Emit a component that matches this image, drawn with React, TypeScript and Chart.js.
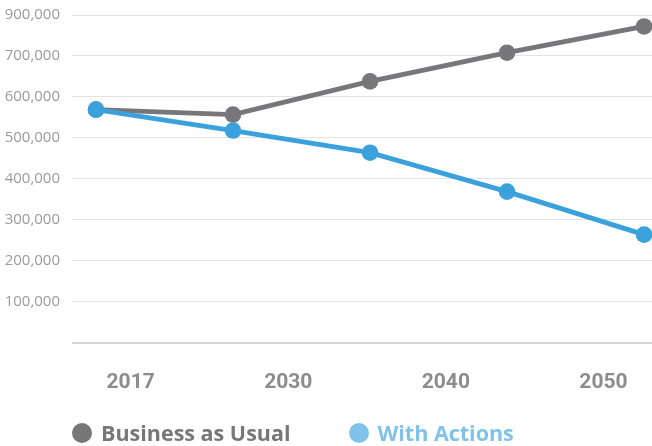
import { useEffect, useRef } from 'react';
import { Chart, registerables } from 'chart.js';

Chart.register(...registerables);

const pointIndex = [0, 1, 2, 3, 4];
const businessAsUsual = [569000, 557000, 638000, 708000, 772000];
const withActions = [569000, 518000, 464000, 369000, 264000];
const yearLabels = ['2017', '2030', '2040', '2050'];
const yTickLabels = ['', '100,000', '200,000', '300,000', '400,000', '500,000', '600,000', '700,000', '900,000'];
const seriesNames = ['Business as Usual', 'With Actions'];

const GRAY = '#77777b';
const BLUE = '#3ba1dc';
const GRAY_LEGEND = '#77777b';
const BLUE_LEGEND = '#80c2ea';

export default function App() {
  const canvasRef = useRef<HTMLCanvasElement | null>(null);

  useEffect(() => {
    if (!canvasRef.current) return;
    const chart = new Chart(canvasRef.current, {
      type: 'line',
      data: {
        datasets: [
          {
            label: seriesNames[0],
            data: pointIndex.map((x, i) => ({ x, y: businessAsUsual[i] })),
            borderColor: GRAY,
            backgroundColor: GRAY,
            borderWidth: 4.8,
            pointRadius: 8.3,
            pointBorderWidth: 0,
            clip: false as any,
            order: 1,
          },
          {
            label: seriesNames[1],
            data: pointIndex.map((x, i) => ({ x, y: withActions[i] })),
            borderColor: BLUE,
            backgroundColor: BLUE,
            borderWidth: 4.8,
            pointRadius: 8.3,
            pointBorderWidth: 0,
            clip: false as any,
            order: 0,
          },
        ],
      },
      options: {
        animation: false,
        responsive: true,
        maintainAspectRatio: false,
        layout: { autoPadding: false, padding: { top: 15, right: 0, bottom: 24, left: 0 } },
        plugins: { legend: { display: false }, tooltip: { enabled: false } },
        scales: {
          x: {
            type: 'linear',
            display: false,
            min: -0.175,
            max: 4.058,
          },
          xl: {
            type: 'linear',
            position: 'bottom',
            min: -0.372,
            max: 3.308,
            grid: { display: false, drawTicks: false },
            border: { display: false },
            afterFit: (scale: any) => {
              scale.paddingLeft = 0;
              scale.paddingRight = 0;
            },
            ticks: {
              stepSize: 1,
              includeBounds: false,
              autoSkip: false,
              maxRotation: 0,
              padding: 27,
              color: '#8c8c8c',
              font: { family: 'Roboto', size: 21, weight: 'bold' },
              callback: (v: any) => yearLabels[v as number] ?? '',
            },
          },
          y: {
            type: 'linear',
            min: 0,
            max: 800000,
            border: { display: false },
            grid: {
              drawTicks: false,
              color: (ctx: any) => (ctx.tick && ctx.tick.value === 0 ? '#d6d6d6' : '#e3e3e3'),
              lineWidth: (ctx: any) => (ctx.tick && ctx.tick.value === 0 ? 2 : 1),
            },
            afterFit: (scale: any) => {
              scale.width = 72;
              scale.paddingTop = 0;
              scale.paddingBottom = 0;
            },
            ticks: {
              stepSize: 100000,
              padding: 12,
              color: '#9b9b9b',
              font: { family: 'Open Sans', size: 15 },
              callback: (_v: any, i: number) => yTickLabels[i] ?? '',
            },
          },
        },
      },
    });
    return () => chart.destroy();
  }, []);

  const legendItems = [
    { name: seriesNames[0], color: GRAY_LEGEND },
    { name: seriesNames[1], color: BLUE_LEGEND },
  ];

  return (
    <div style={{ position: 'fixed', left: 0, top: 0, width: 652, height: 446, background: '#fff', overflow: 'hidden' }}>
      <canvas ref={canvasRef} style={{ position: 'absolute', left: 0, top: 0, width: 652, height: 446 }} />
      <div
        style={{
          position: 'absolute',
          left: 72,
          top: 423,
          display: 'flex',
          alignItems: 'center',
          gap: 58,
          fontFamily: 'Open Sans',
          fontWeight: 700,
          fontSize: 21.5,
          lineHeight: '20px',
        }}
      >
        {legendItems.map((it) => (
          <div key={it.name} style={{ display: 'flex', alignItems: 'center' }}>
            <span
              style={{ display: 'inline-block', width: 20, height: 20, borderRadius: '50%', background: it.color, marginRight: 9 }}
            />
            <span style={{ color: it.color, whiteSpace: 'nowrap' }}>{it.name}</span>
          </div>
        ))}
      </div>
    </div>
  );
}
